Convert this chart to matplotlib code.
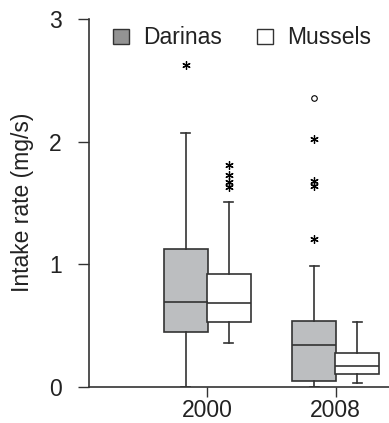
import matplotlib
matplotlib.use("Agg")
import matplotlib.pyplot as plt
from matplotlib.patches import Patch

plt.rcParams['font.family'] = ['Liberation Sans', 'DejaVu Sans']

years = ["2000", "2008"]
series = ["Darinas", "Mussels"]

# [whislo, q1, med, q3, whishi]
darinas_stats = [[0.0, 0.442, 0.692, 1.120, 2.072],
                 [0.0, 0.045, 0.341, 0.535, 0.986]]
mussels_stats = [[0.353, 0.524, 0.679, 0.921, 1.510],
                 [0.026, 0.102, 0.167, 0.276, 0.524]]
darinas_star_outliers = [[2.624], [2.018, 1.677, 1.639, 1.204]]
darinas_circle_outliers = [[], [2.353]]
mussels_star_outliers = [[1.808, 1.727, 1.672, 1.632], []]

fills = {"Darinas": "#bcbec0", "Mussels": "#ffffff"}
legend_fills = {"Darinas": "#939393", "Mussels": "#ffffff"}
line_c = "#333333"
text_c = "#222222"

W, H = 389, 423
fig = plt.figure(figsize=(W / 100, H / 100), dpi=100)
ax = fig.add_axes([89 / W, (H - 386.5) / H, 1 - 89 / W, (386.5 - 19) / H])

offset = 0.168
width = 0.34
for si, (name, stats, stars, circles) in enumerate([
        ("Darinas", darinas_stats, darinas_star_outliers, darinas_circle_outliers),
        ("Mussels", mussels_stats, mussels_star_outliers, [[], []])]):
    bxps = []
    for yi, s in enumerate(stats):
        bxps.append(dict(whislo=s[0], q1=s[1], med=s[2], q3=s[3], whishi=s[4],
                         fliers=[], label=years[yi]))
    pos = [yi + (-offset if si == 0 else offset) for yi in range(len(years))]
    ax.bxp(bxps, positions=pos, widths=width, patch_artist=True,
           showfliers=False, capwidths=0.07,
           boxprops=dict(facecolor=fills[name], edgecolor=line_c, linewidth=1.2),
           medianprops=dict(color=line_c, linewidth=1.2),
           whiskerprops=dict(color=line_c, linewidth=1.2),
           capprops=dict(color=line_c, linewidth=1.2))
    for yi in range(len(years)):
        if stars[yi]:
            ax.plot([pos[yi]] * len(stars[yi]), stars[yi], linestyle='none',
                    marker=(6, 2, 0), markersize=6, color='black',
                    markeredgewidth=0.9, clip_on=False)
        if circles[yi]:
            ax.plot([pos[yi]] * len(circles[yi]), circles[yi], linestyle='none',
                    marker='o', markersize=4, markerfacecolor='white',
                    markeredgecolor='black', markeredgewidth=0.8)

ax.set_xlim(-0.921, 1.415)
ax.set_ylim(0, 3)
ax.set_xticks(range(len(years)))
ax.set_xticklabels(years)
ax.set_yticks([0, 1, 2, 3])
ax.set_yticklabels(["0", "1", "2", "3"])
for sp in ["top", "right"]:
    ax.spines[sp].set_visible(False)
for sp in ["left", "bottom"]:
    ax.spines[sp].set_color(line_c)
    ax.spines[sp].set_linewidth(1.2)
ax.tick_params(axis='y', length=8, width=1.0, color=line_c, pad=11.5,
               labelsize=16.5, labelcolor=text_c)
ax.tick_params(axis='x', length=7, width=1.0, color=line_c, pad=2,
               labelsize=16.5, labelcolor=text_c)
ax.set_ylabel("Intake rate (mg/s)", fontsize=16.5, color=text_c, labelpad=11)

handles = [Patch(facecolor=legend_fills[n], edgecolor=line_c, linewidth=1.0, label=n)
           for n in series]
ax.legend(handles=handles, loc='upper left',
          bbox_to_anchor=(113 / W, (H - 26.5) / H), bbox_transform=fig.transFigure,
          ncol=2, frameon=False, fontsize=16.5, borderpad=0, borderaxespad=0,
          handlelength=0.7, handleheight=0.66,
          handletextpad=0.6, columnspacing=1.55, labelcolor=text_c)

fig.savefig("out.png", dpi=100)
